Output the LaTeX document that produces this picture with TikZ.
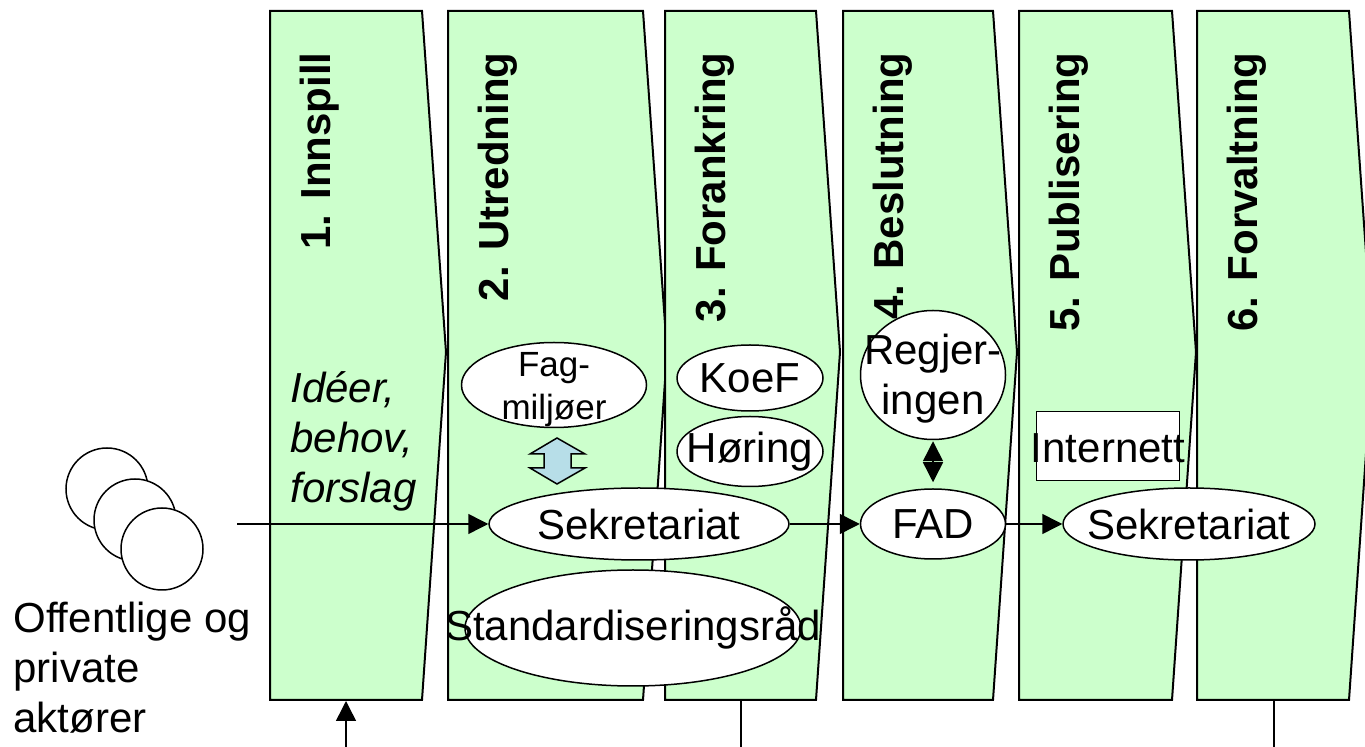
\documentclass[tikz,border=0pt]{standalone}
\usepackage{fontspec}
\setmainfont{Liberation Sans}
\usetikzlibrary{positioning}
\usetikzlibrary{shapes.geometric}
\usetikzlibrary{arrows.meta}

\definecolor{phasegreen}{RGB}{204,255,204}
\definecolor{arrowblue}{RGB}{183,222,232}

\begin{document}
\begin{tikzpicture}[x=0.5pt, y=-0.5pt,
    phasebox/.style={draw=black, fill=phasegreen, line width=1pt},
    phasetitle/.style={rotate=90, anchor=base east, inner sep=0pt, font=\bfseries\fontsize{21}{25}\selectfont},
    bubble/.style={ellipse, draw=black, fill=white, line width=0.75pt, inner sep=0pt, font=\fontsize{21}{25}\selectfont},
    bubbletext/.style={inner sep=0pt, align=center, font=\fontsize{21}{25}\selectfont},
    actor/.style={circle, draw=black, fill=white, line width=0.75pt, inner sep=0pt, minimum size=41pt},
    flow/.style={-{Triangle[length=10pt,width=10pt]}, line width=0.75pt}]
    \clip (0,0) rectangle (1365,747);
    \fill[white] (0,0) rectangle (1365,747);

    % the six phases
    \foreach \xa/\xb/\ph/\lbl in {270/422/1/1. Innspill, 448/643/2/2. Utredning, 665/816/3/3. Forankring,
                                  843/993/4/4. Beslutning, 1019/1172/5/5. Publisering, 1197/1349/6/6. Forvaltning}{
        \draw[phasebox] (\xa,11) -- (\xb,11) -- (\xb+24,352) -- (\xb,700) -- (\xa,700) -- cycle;
        \node[phasetitle] (t\ph) at (\xa+60,52) {\lbl};
    }

    % actors
    \node[actor] (a1) at (107,489) {};
    \node[actor] (a2) at (135,520) {};
    \node[actor] (a3) at (162,549) {};
    \node[anchor=north west, align=left, inner sep=0pt, font=\fontsize{21}{25}\selectfont] (actors) at (13,602) {Offentlige og\\private\\aktører};
    \node[anchor=north west, align=left, inner sep=0pt, font=\itshape\fontsize{21}{25}\selectfont] (ideas) at (290,371) {Idéer,\\behov,\\forslag};

    % bubbles
    \node[bubble, minimum width=150pt, minimum height=36pt] (sek1) at (639,524) {Sekretariat};
    \node[bubble, minimum width=92.5pt, minimum height=42.5pt] (fag) at (554,385) {};
    \node[bubbletext, font=\fontsize{17.5}{21.5}\selectfont] (fagtxt) at (554,390) {Fag-\\miljøer};
    \node[bubble, minimum width=168pt, minimum height=58pt] (std) at (633,628) {};
    \node[bubbletext] (stdtxt) at (std) {Standardiseringsråd};
    \node[bubble, minimum width=73pt, minimum height=33pt] (koef) at (750,378) {KoeF};
    \node[bubble, minimum width=73pt, minimum height=35pt] (hor) [below=2pt of koef] {};
    \node[bubbletext] (hortxt) at (hor) {Høring};
    \node[bubble, minimum width=72.5pt, minimum height=35pt] (fad) [right=35pt of sek1] {FAD};
    \node[bubble, minimum width=72.5pt, minimum height=64.5pt] (reg) [above=24pt of fad] {};
    \node[bubbletext] (regtxt) at ([yshift=-2pt]reg.center) {Regjer-\\ingen};
    \node[bubble, minimum width=126pt, minimum height=36pt] (sek2) [right=28pt of fad] {};
    \node[bubbletext] (sek2txt) at (sek2) {Sekretariat};
    \node[draw=black, fill=white, line width=0.75pt, inner sep=0pt, minimum width=71.5pt, minimum height=34.5pt] (web) at (1108,446) {};
    \node[bubbletext] (webtxt) at (1108,448) {Internett};

    % block arrow between Fag-miljøer and Sekretariat
    \coordinate (bm) at (557,461);
    \draw[line width=0.75pt, fill=arrowblue, shift={(bm)}] (0,-23) -- (28,-7) -- (14,-7) -- (14,7) -- (28,7) -- (0,23)
        -- (-27,7) -- (-13,7) -- (-13,-7) -- (-27,-7) -- cycle;

    % flows
    \coordinate (src) at (237,524);
    \draw[flow] (src) -- (sek1);
    \draw[flow] (sek1) -- (fad);
    \draw[flow] (fad) -- (sek2);
    \draw[{Triangle[length=10pt,width=10pt]}-{Triangle[length=10pt,width=10pt]}, line width=0.75pt, shorten <=0.5pt, shorten >=3pt] (reg) -- (fad);

    % loose ends at the bottom
    \coordinate (in1) at (346,747);
    \coordinate (p1foot) at (346,701);
    \draw[flow] (in1) -- (p1foot);
    \coordinate (p3foot) at (741,700);
    \coordinate (out3) at (741,747);
    \draw[line width=0.75pt] (p3foot) -- (out3);
    \coordinate (p6foot) at (1274,700);
    \coordinate (out6) at (1274,747);
    \draw[line width=0.75pt] (p6foot) -- (out6);
\end{tikzpicture}
\end{document}
